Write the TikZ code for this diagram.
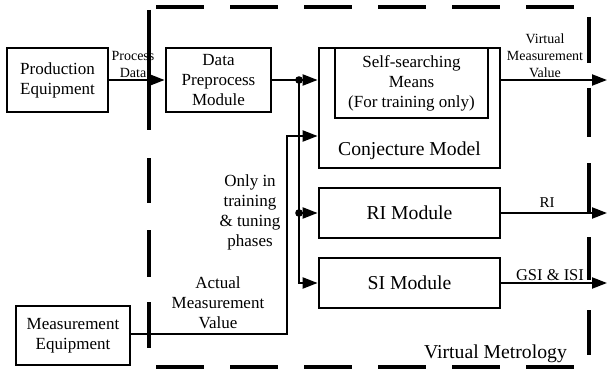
\documentclass[tikz,border=0pt]{standalone}
\usepackage{fontspec}
\setmainfont{Liberation Serif}
\usetikzlibrary{arrows.meta}
\begin{document}
\begin{tikzpicture}[x=1pt,y=-1pt,
  box/.style={draw, line width=2.8pt, inner sep=0pt, align=center},
  big/.style={font=\fontsize{19.7}{22}\selectfont},
  med/.style={font=\fontsize{17}{20}\selectfont, align=center, inner sep=0pt},
  sml/.style={font=\fontsize{14}{17}\selectfont, align=center, inner sep=0pt},
  conn/.style={line width=2.2pt, -{Triangle[length=15pt,width=11pt]}},
  vm/.style={draw, line width=3.6pt},
]
\useasboundingbox (0,0) rectangle (608,369);
% dashed Virtual Metrology frame
\draw[vm, dash pattern=on 48pt off 26pt, dash phase=67pt] (149,7) -- (589,7);
\draw[vm, dash pattern=on 48pt off 26pt, dash phase=67pt] (149,367) -- (589,367);
\draw[vm, dash pattern=on 120pt off 28pt on 45pt off 27pt on 47pt off 25pt on 46pt off 60pt] (149,10) -- (149,348);
\draw[vm, dash pattern=on 46pt off 25pt on 49pt off 26pt on 49pt off 25pt on 43pt off 30pt on 45pt off 30pt] (589,17) -- (589,355);
\node[big, anchor=base] (vmlabel) at (495.5,358) {Virtual Metrology};

% boxes
\node[box, med, minimum width=101pt, minimum height=64pt] (pe) at (57.5,80) {Production\\Equipment};
\node[box, med, minimum width=105pt, minimum height=64pt] (dp) at (218.5,80) {Data\\Preprocess\\Module};
\node[box, minimum width=181pt, minimum height=120pt] (cm) at (409.5,108) {};
\node[box, med, minimum width=153pt, minimum height=70pt] (ss) at (411.5,83) {Self-searching\\Means\\(For training only)};
\node[big] (cmlabel) at (409.5,151) {Conjecture Model};
\node[box, big, minimum width=181pt, minimum height=50pt] (ri) at (409.5,213) {RI Module};
\node[box, big, minimum width=181pt, minimum height=50pt] (si) at (409.5,283) {SI Module};
\node[box, med, minimum width=114pt, minimum height=59pt] (me) at (73,335.5) {Measurement\\Equipment};

% coordinates
\coordinate (j1) at (299,80);
\coordinate (j2) at (299,213);
\coordinate (c1) at (287,136);
\coordinate (o1) at (607,80);
\coordinate (o2) at (607,213);
\coordinate (o3) at (607,283);

% connectors
\draw[conn] (pe.east) -- (dp.west);
\draw[conn] (dp.east) -- (cm.west |- dp.east);
\draw[conn] (j1) |- (si.west);
\draw[conn] (j2) -- (ri.west);
\draw[conn] (me.east |- 0,334) -| (c1) -- (cm.west |- c1);
\fill (j1) circle (3.8);
\fill (j2) circle (3.8);
\draw[conn] (cm.east |- o1) -- (o1);
\draw[conn] (ri.east) -- (o2);
\draw[conn] (si.east) -- (o3);

% labels
\node[sml] (lpd) at (133,64.5) {Process\\Data};
\node[sml] (lvmv) at (545,56) {Virtual\\Measurement\\Value};
\node[sml, font=\fontsize{15}{17}\selectfont] (lri) at (547,203) {RI};
\node[med, font=\fontsize{16.5}{19}\selectfont] (lgsi) at (550,275) {GSI \& ISI};
\node[med] (lonly) at (250,212) {Only in\\training\\\& tuning\\phases};
\node[med] (lamv) at (218,303) {Actual\\Measurement\\Value};
\end{tikzpicture}
\end{document}
